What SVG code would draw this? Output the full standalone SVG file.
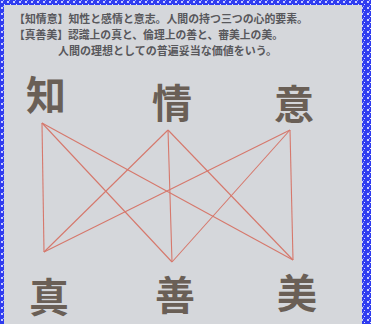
<svg xmlns="http://www.w3.org/2000/svg" width="371" height="324" viewBox="0 0 371 324">
<defs>
<pattern id="bp" width="6" height="6" patternUnits="userSpaceOnUse">
<rect width="6" height="6" fill="#2f3cf0"/>
<rect x="1" y="1" width="2" height="2" fill="#c8ccff"/>
<rect x="4" y="4" width="1" height="1" fill="#e0e2ff"/>
<rect x="3" y="0" width="1" height="1" fill="#9aa2ff"/>
</pattern>
</defs>
<style>
.t{font-family:"Noto Sans CJK JP","Noto Sans CJK SC",sans-serif;font-size:11px;fill:#58585c;font-weight:bold}
.k{font-family:"Noto Sans CJK JP","Noto Sans CJK SC",sans-serif;font-size:40px;fill:#6a5f56;font-weight:bold;text-anchor:middle}
.c line{stroke:#d6786c;stroke-width:1.1}
</style>
<rect width="371" height="324" fill="#d5d7db"/>
<rect x="0" y="0" width="371" height="5" fill="url(#bp)"/>
<rect x="0" y="0" width="4" height="324" fill="url(#bp)"/>
<rect x="362" y="0" width="9" height="324" fill="url(#bp)"/>
<g id="caption">
<text class="t" x="14" y="23" textLength="294" lengthAdjust="spacingAndGlyphs">【知情意】知性と感情と意志。人間の持つ三つの心的要素。</text>
<text class="t" x="14" y="39" textLength="269" lengthAdjust="spacingAndGlyphs">【真善美】認識上の真と、倫理上の善と、審美上の美。</text>
<text class="t" x="58" y="55" textLength="219" lengthAdjust="spacingAndGlyphs">人間の理想としての普遍妥当な価値をいう。</text>
</g>
<g class="c" id="connectors">
<line x1="42" y1="123" x2="44" y2="252"/>
<line x1="42" y1="123" x2="172" y2="262"/>
<line x1="42" y1="123" x2="293" y2="260"/>
<line x1="168" y1="130" x2="44" y2="252"/>
<line x1="168" y1="130" x2="172" y2="262"/>
<line x1="168" y1="130" x2="293" y2="260"/>
<line x1="290" y1="130" x2="44" y2="252"/>
<line x1="290" y1="130" x2="172" y2="262"/>
<line x1="290" y1="130" x2="293" y2="260"/>
</g>
<g id="chi"><text class="k" x="46" y="110">知</text></g>
<g id="jou"><text class="k" x="172" y="118">情</text></g>
<g id="i"><text class="k" x="294" y="119">意</text></g>
<g id="shin"><text class="k" x="49" y="312">真</text></g>
<g id="zen"><text class="k" x="175" y="310">善</text></g>
<g id="bi"><text class="k" x="297" y="308">美</text></g>
</svg>
